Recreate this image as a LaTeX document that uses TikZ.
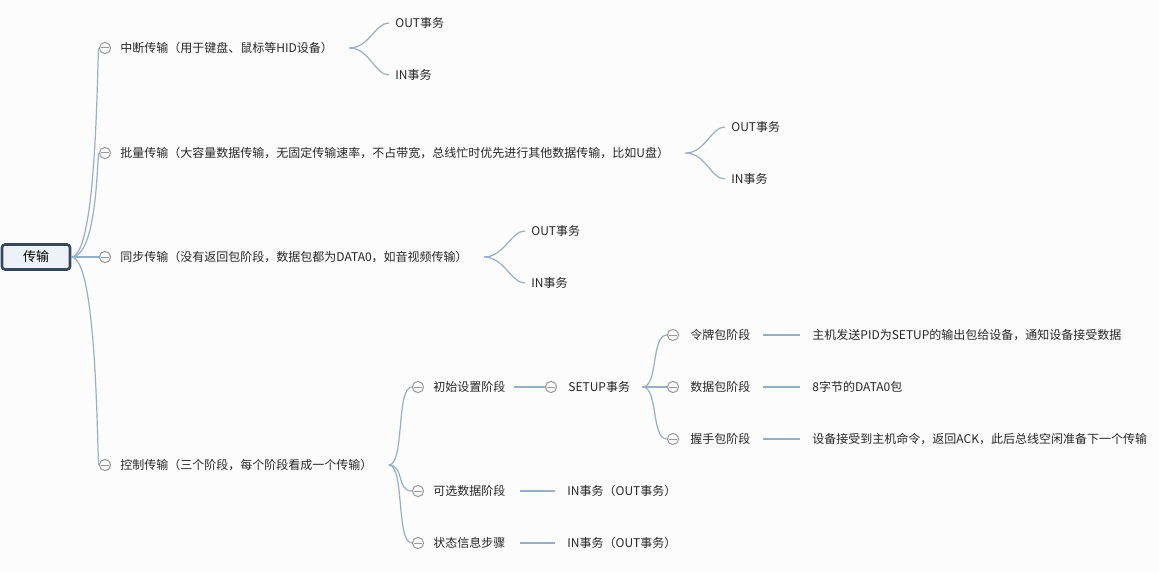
\documentclass[tikz,border=0pt]{standalone}
\usepackage{fontspec}
\setmainfont{Noto Sans CJK SC}
\usetikzlibrary{positioning}
\definecolor{edgeblue}{RGB}{150,176,200}
\definecolor{rootline}{RGB}{52,72,90}
\definecolor{rootfill}{RGB}{236,242,247}
\tikzset{
  lbl/.style={anchor=west,inner sep=0pt,font=\fontsize{6}{7}\selectfont,text=black!85},
  fold/.style={circle,draw=gray!80,line width=0.5pt,minimum size=5.6pt,inner sep=0pt,
    path picture={\draw[gray!80,line width=0.5pt] ([xshift=-1.8pt]path picture bounding box.center) -- ([xshift=1.8pt]path picture bounding box.center);}},
  link/.style={draw=edgeblue,line width=0.6pt}
}
\begin{document}
\begin{tikzpicture}[x=0.5pt,y=-0.5pt]
\useasboundingbox[fill=black!1] (0,0) rectangle (1159,572);
\node[draw=rootline,fill=rootfill,line width=1.3pt,rounded corners=1.5pt,minimum width=34pt,minimum height=12.5pt,inner sep=0pt,font=\fontsize{6.5}{7}\selectfont] (root) at (36,257) {传输};

% first level
\node[fold] (c1) at (105,48) {};  \node[lbl] (t1) at (120,48) {中断传输（用于键盘、鼠标等HID设备）};
\node[fold] (c2) at (105,153) {}; \node[lbl] (t2) at (120,153) {批量传输（大容量数据传输，无固定传输速率，不占带宽，总线忙时优先进行其他数据传输，比如U盘）};
\node[fold] (c3) at (105,257) {}; \node[lbl] (t3) at (120,257) {同步传输（没有返回包阶段，数据包都为DATA0，如音视频传输）};
\node[fold] (c4) at (105,465) {}; \node[lbl] (t4) at (120,465) {控制传输（三个阶段，每个阶段看成一个传输）};
\draw[link] (root.east) -- (c3.west);
\foreach \n/\y in {c1/48,c2/153,c4/465}
  \draw[link] (root.east) .. controls (98,257) and (97,\y) .. (\n.west);

% OUT / IN leaves
\node[lbl] (o1) at (395,23) {OUT事务};  \node[lbl] (i1) at (395,75) {IN事务};
\node[lbl] (o2) at (731,127) {OUT事务}; \node[lbl] (i2) at (731,179) {IN事务};
\node[lbl] (o3) at (531,231) {OUT事务}; \node[lbl] (i3) at (531,283) {IN事务};
\foreach \t/\a/\b in {t1/o1/i1,t2/o2/i2,t3/o3/i3} {
  \draw[link] ([xshift=8pt]\t.east) .. controls ([xshift=18pt]\t.east) and ([xshift=-10pt]\a.west) .. ([xshift=-3pt]\a.west);
  \draw[link] ([xshift=8pt]\t.east) .. controls ([xshift=18pt]\t.east) and ([xshift=-10pt]\b.west) .. ([xshift=-3pt]\b.west);
}

% control transfer
\node[fold] (d1) at (418,387) {}; \node[lbl] (s1) at (433,387) {初始设置阶段};
\node[fold] (d2) at (418,491) {}; \node[lbl] (s2) at (433,491) {可选数据阶段};
\node[fold] (d3) at (418,543) {}; \node[lbl] (s3) at (433,543) {状态信息步骤};
\foreach \n in {d1,d2,d3}
  \draw[link] ([xshift=8pt]t4.east) .. controls ([xshift=16pt]t4.east) and ([xshift=-8pt]\n.west) .. (\n.west);

\node[fold] (su) at (551,387) {}; \node[lbl] (st) at (568,387) {SETUP事务};
\draw[link] ([xshift=4pt]s1.east) -- (su.west);
\node[lbl] (r2) at (567,491) {IN事务（OUT事务）};
\node[lbl] (r3) at (567,543) {IN事务（OUT事务）};
\draw[link] ([xshift=7pt]s2.east) -- ([xshift=-6pt]r2.west);
\draw[link] ([xshift=7pt]s3.east) -- ([xshift=-6pt]r3.west);

\node[fold] (e1) at (673,335) {}; \node[lbl] (p1) at (690,335) {令牌包阶段};
\node[fold] (e2) at (673,387) {}; \node[lbl] (p2) at (690,387) {数据包阶段};
\node[fold] (e3) at (673,439) {}; \node[lbl] (p3) at (690,439) {握手包阶段};
\foreach \n in {e1,e2,e3}
  \draw[link] ([xshift=6pt]st.east) .. controls ([xshift=14pt]st.east) and ([xshift=-8pt]\n.west) .. (\n.west);

\node[lbl] (q1) at (812,335) {主机发送PID为SETUP的输出包给设备，通知设备接受数据};
\node[lbl] (q2) at (812,387) {8字节的DATA0包};
\node[lbl] (q3) at (812,439) {设备接受到主机命令，返回ACK，此后总线空闲准备下一个传输};
\foreach \a/\b in {p1/q1,p2/q2,p3/q3}
  \draw[link] ([xshift=6pt]\a.east) -- ([xshift=-6pt]\b.west);
\end{tikzpicture}
\end{document}
